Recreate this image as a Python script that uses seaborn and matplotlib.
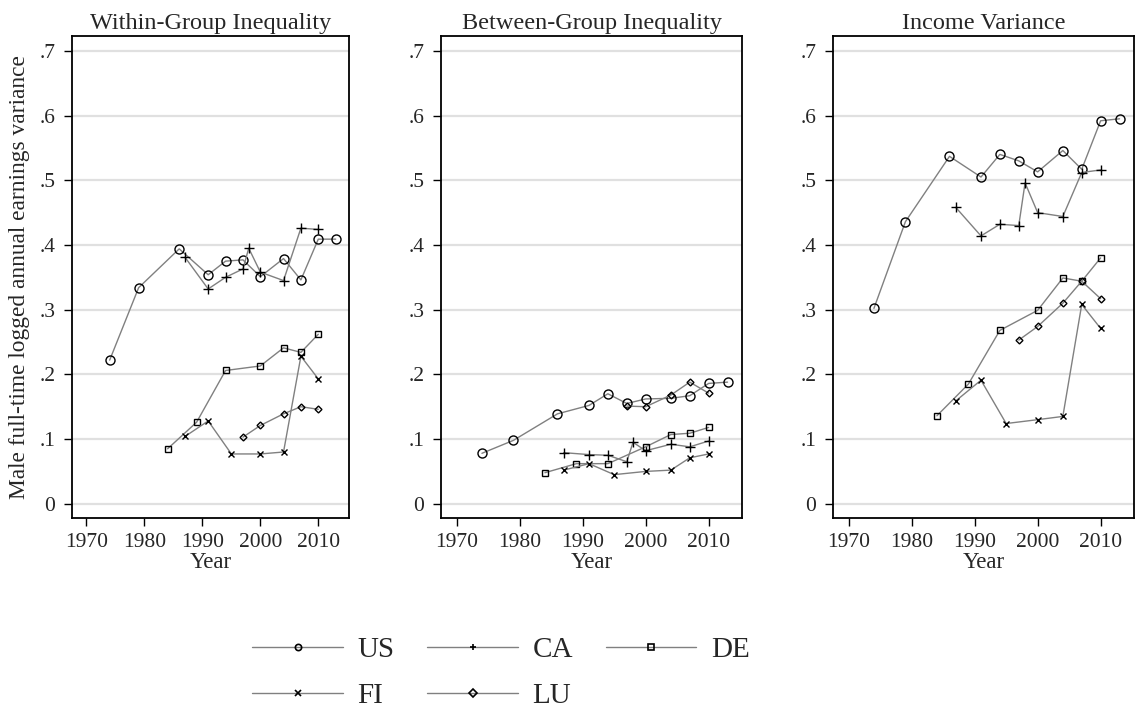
import numpy as np
import pandas as pd
import matplotlib
matplotlib.use('Agg')
import matplotlib.pyplot as plt
from matplotlib.lines import Line2D
import seaborn as sns

# Survey years per country
us_years = [1974, 1979, 1986, 1991, 1994, 1997, 2000, 2004, 2007, 2010, 2013]
ca_years = [1987, 1991, 1994, 1997, 1998, 2000, 2004, 2007, 2010]
de_years = [1984, 1989, 1994, 2000, 2004, 2007, 2010]
fi_years = [1987, 1991, 1995, 2000, 2004, 2007, 2010]
lu_years = [1997, 2000, 2004, 2007, 2010]

# Within-group inequality
us_within = [.222, .334, .394, .354, .375, .377, .351, .379, .346, .409, .409]
ca_within = [.381, .332, .350, .363, .395, .358, .345, .426, .424]
de_within = [.085, .126, .206, .213, .241, .234, .262]
fi_within = [.104, .128, .077, .077, .080, .228, .193]
lu_within = [.103, .121, .139, .150, .146]

# Between-group inequality
us_between = [.078, .098, .139, .152, .170, .155, .162, .163, .167, .186, .188]
ca_between = [.079, .076, .075, .065, .095, .082, .092, .088, .097]
de_between = [.048, .062, .062, .088, .107, .109, .118]
fi_between = [.052, .062, .045, .050, .052, .071, .077]
lu_between = [.151, .150, .168, .188, .171]

# Total income variance
us_total = [.302, .436, .537, .505, .540, .530, .513, .546, .517, .592, .595]
ca_total = [.458, .414, .432, .430, .496, .450, .444, .512, .516]
de_total = [.136, .185, .268, .299, .349, .344, .380]
fi_total = [.159, .191, .124, .130, .135, .308, .271]
lu_total = [.253, .274, .310, .344, .317]

countries = ['US', 'CA', 'DE', 'FI', 'LU']
years = [us_years, ca_years, de_years, fi_years, lu_years]
panels = {
    'Within-Group Inequality': [us_within, ca_within, de_within, fi_within, lu_within],
    'Between-Group Inequality': [us_between, ca_between, de_between, fi_between, lu_between],
    'Income Variance': [us_total, ca_total, de_total, fi_total, lu_total],
}
y_ticks = [0, .1, .2, .3, .4, .5, .6, .7]
y_tick_labels = ['0', '.1', '.2', '.3', '.4', '.5', '.6', '.7']
x_ticks = [1970, 1980, 1990, 2000, 2010]

# marker style per country: (marker, size in plot, size in legend)
markers = {'US': ('o', 6.5, 4.5), 'CA': ('+', 7, 5), 'DE': ('s', 3.8, 3.8),
           'FI': ('x', 4.5, 4), 'LU': ('D', 3.5, 4)}

sns.set_style('white')
plt.rcParams['font.family'] = ['Liberation Serif', 'DejaVu Serif']

fig = plt.figure(figsize=(11.38, 7.19), dpi=100)
W, H = 1138, 719
lefts = [72, 441, 833]
widths = [277, 301, 301]

for i, (title, series) in enumerate(panels.items()):
    ax = fig.add_axes([lefts[i] / W, (H - 518) / H, widths[i] / W, 482 / H])
    for c, yrs, vals in zip(countries, years, series):
        m, ms, _ = markers[c]
        df = pd.DataFrame({'Year': yrs, 'val': vals})
        sns.lineplot(data=df, x='Year', y='val', ax=ax, color='#808080', linewidth=1.0,
                     marker=m, markersize=ms, markeredgecolor='black',
                     markerfacecolor='none', markeredgewidth=1.0, legend=False, zorder=3)
    ax.set_xlim(1967.5, 2015.3)
    ax.set_ylim(-0.022, 0.723)
    ax.set_yticks(y_ticks)
    ax.set_yticklabels(y_tick_labels)
    ax.set_xticks(x_ticks)
    ax.yaxis.grid(True, color='#e0e0e0', linewidth=1.6, zorder=0)
    ax.xaxis.grid(False)
    ax.set_axisbelow(True)
    ax.tick_params(axis='x', direction='out', length=6, width=1.0, color='black',
                   labelsize=15.5, pad=5, bottom=True)
    ax.tick_params(axis='y', direction='out', length=6, width=1.0, color='black',
                   labelsize=15.5, pad=6, left=True)
    for s in ax.spines.values():
        s.set_color('black')
        s.set_linewidth(1.3)
    ax.set_title(title, fontsize=17.5, pad=5)
    ax.set_xlabel('Year', fontsize=16.5, labelpad=0)
    if i == 0:
        ax.set_ylabel('Male full-time logged annual earnings variance', fontsize=16.8, labelpad=7)
    else:
        ax.set_ylabel('')

handles = {}
for c in countries:
    m, _, lms = markers[c]
    handles[c] = Line2D([0], [0], color='#808080', linewidth=1.0, marker=m, markersize=lms,
                        markeredgecolor='black', markerfacecolor='none', markeredgewidth=1.2)
# legend fills column by column, so order entries to read US CA DE / FI LU by row
legend_order = ['US', 'FI', 'CA', 'LU', 'DE']
fig.legend([handles[c] for c in legend_order], legend_order, loc='center',
           bbox_to_anchor=(501 / W, 1 - 673 / H), ncol=3, frameon=False, fontsize=21,
           handlelength=3.1, handletextpad=0.5, columnspacing=1.13, labelspacing=0.68)

fig.savefig('out.png', dpi=100)
